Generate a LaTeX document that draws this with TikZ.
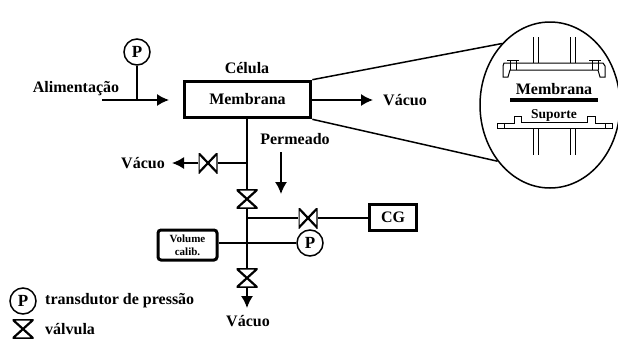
\documentclass[tikz,border=0pt]{standalone}
\usepackage{fontspec}
\setmainfont{Liberation Serif}
\usetikzlibrary{arrows.meta,shapes.geometric}

\tikzset{
  rotulo/.style={font=\fontsize{16}{18}\selectfont\bfseries,inner sep=0pt},
  rotulop/.style={font=\fontsize{11}{12}\selectfont\bfseries,inner sep=0pt},
  linha/.style={line width=1.5pt},
  seta/.style={line width=1.5pt,-{Latex[length=12pt,width=12pt]}},
  transdutor/.style={draw,circle,line width=1.5pt,minimum size=26pt,inner sep=0pt,fill=white,
    font=\fontsize{17}{18}\selectfont\bfseries},
  valvh/.style={minimum width=19pt,minimum height=20pt,inner sep=0pt,fill=white,
    path picture={\draw[line width=2.2pt]
      (path picture bounding box.north west) -- (path picture bounding box.south east)
      -- (path picture bounding box.north east) -- (path picture bounding box.south west) -- cycle;}},
  valvv/.style={minimum width=21pt,minimum height=19pt,inner sep=0pt,fill=white,
    path picture={\draw[line width=2.2pt]
      (path picture bounding box.north west) -- (path picture bounding box.north east)
      -- (path picture bounding box.south west) -- (path picture bounding box.south east) -- cycle;}}
}

\begin{document}
\begin{tikzpicture}[x=1pt,y=-1pt]
   \useasboundingbox (0,0) rectangle (618,338);

   % celula
   \path (247.5,99.5) node[draw,rectangle,line width=3.6pt,minimum width=126pt,minimum height=36pt,
     rotulo] (Membrana) {Membrana};
   \path (247,68) node[rotulo] (Celula) {Célula};
   \path (137,52) node[transdutor] (P1) {P};
   \path (76,89) node[rotulo] (Alim) {Alimentação};
   \path (405,100) node[rotulo] (Vacuo1) {Vácuo};
   \coordinate (A0) at (102,100);
   \coordinate (A1) at (169,100);
   \coordinate (A2) at (137,100);
   \coordinate (V1) at (373,100);
   \draw[seta] (A0) -- (A1);
   \draw[linha] (P1) -- (A2);
   \draw[seta] (Membrana.east |- V1) -- (V1);

   % permeado
   \path (247,199) node[valvv] (VA) {};
   \path (247,278) node[valvv] (VB) {};
   \path (208,163) node[valvh] (VC) {};
   \path (308,218) node[valvh] (VD) {};
   \path (310,243) node[transdutor] (P2) {P};
   \path (143,163) node[rotulo] (Vacuo2) {Vácuo};
   \path (295,139) node[rotulo] (Perm) {Permeado};
   \path (248,321) node[rotulo] (Vacuo3) {Vácuo};
   \path (393,217.5) node[draw,rectangle,line width=3.4pt,minimum width=47pt,minimum height=26pt,rotulo] (CG) {CG};
   \path (187.5,245) node[draw,rectangle,rounded corners=3pt,line width=3pt,minimum width=59pt,
     minimum height=30pt,rotulop,align=center,text width=50pt] (Vol) {Volume\\[1pt]calib.};
   \coordinate (J1) at (247,163);
   \coordinate (J2) at (247,218);
   \coordinate (S1) at (172,163);
   \coordinate (S2) at (281,152);
   \coordinate (S3) at (281,194);
   \coordinate (S4) at (247,308);
   \draw[linha] (Membrana.south -| J1) -- (VA);
   \draw[linha] (VA) -- (VB);
   \draw[linha] (J1) -- (VC);
   \draw[seta] (VC) -- (S1);
   \draw[linha] (J2) -- (VD);
   \draw[linha] (VD) -- (CG.west |- VD);
   \draw[linha] (Vol.east |- P2) -- (P2);
   \draw[seta] (VB) -- (S4);
   \draw[seta] (S2) -- (S3);

   % legenda
   \path (23,301) node[transdutor] (P3) {P};
   \path (45,301) node[rotulo,anchor=west] (LegP) {transdutor de pressão};
   \path (23,329) node[valvv] (V3) {};
   \path (45,329) node[rotulo,anchor=west] (LegV) {válvula};

   % detalhe
   \path (550,105) node[draw,ellipse,line width=1.5pt,minimum width=140pt,minimum height=166pt] (Lupa) {};
   \draw[linha] (Membrana.north east) -- (Lupa.128);
   \draw[linha] (Membrana.south east) -- (Lupa.227);
   \path (554,89) node[rotulo] (DetM) {Membrana};
   \path (554,115) node[rotulo,font=\fontsize{13.5}{15}\selectfont\bfseries] (DetS) {Suporte};
   \draw[line width=4pt] (510,100) -- (598,100);
   \foreach \xa in {533,538,570,575} {
     \draw[line width=1pt] (\xa,37) -- (\xa,63);
     \draw[line width=1pt] (\xa,129) -- (\xa,155);
   }
   \draw[line width=1pt] (504,63) -- (603,63) -- (605,66) -- (605,77) -- (600,77) -- (598,70)
     -- (510,70) -- (508,77) -- (503,77) -- (503,66) -- cycle;
   \foreach \xa in {513,595} {
     \draw[line width=1pt] (\xa-6,60) -- (\xa+6,60);
     \draw[line width=1pt] (\xa-3,60) -- (\xa-3,70);
     \draw[line width=1pt] (\xa+3,60) -- (\xa+3,70);
   }
   \draw[line width=1pt] (497,123) -- (514,123) -- (514,116) -- (521,116) -- (521,122) -- (587,122)
     -- (587,116) -- (595,116) -- (595,123) -- (612,123) -- (612,128) -- (497,128) -- cycle;
   \draw[line width=1pt] (504,123) -- (504,128);
   \draw[line width=1pt] (605,123) -- (605,128);
\end{tikzpicture}
\end{document}
